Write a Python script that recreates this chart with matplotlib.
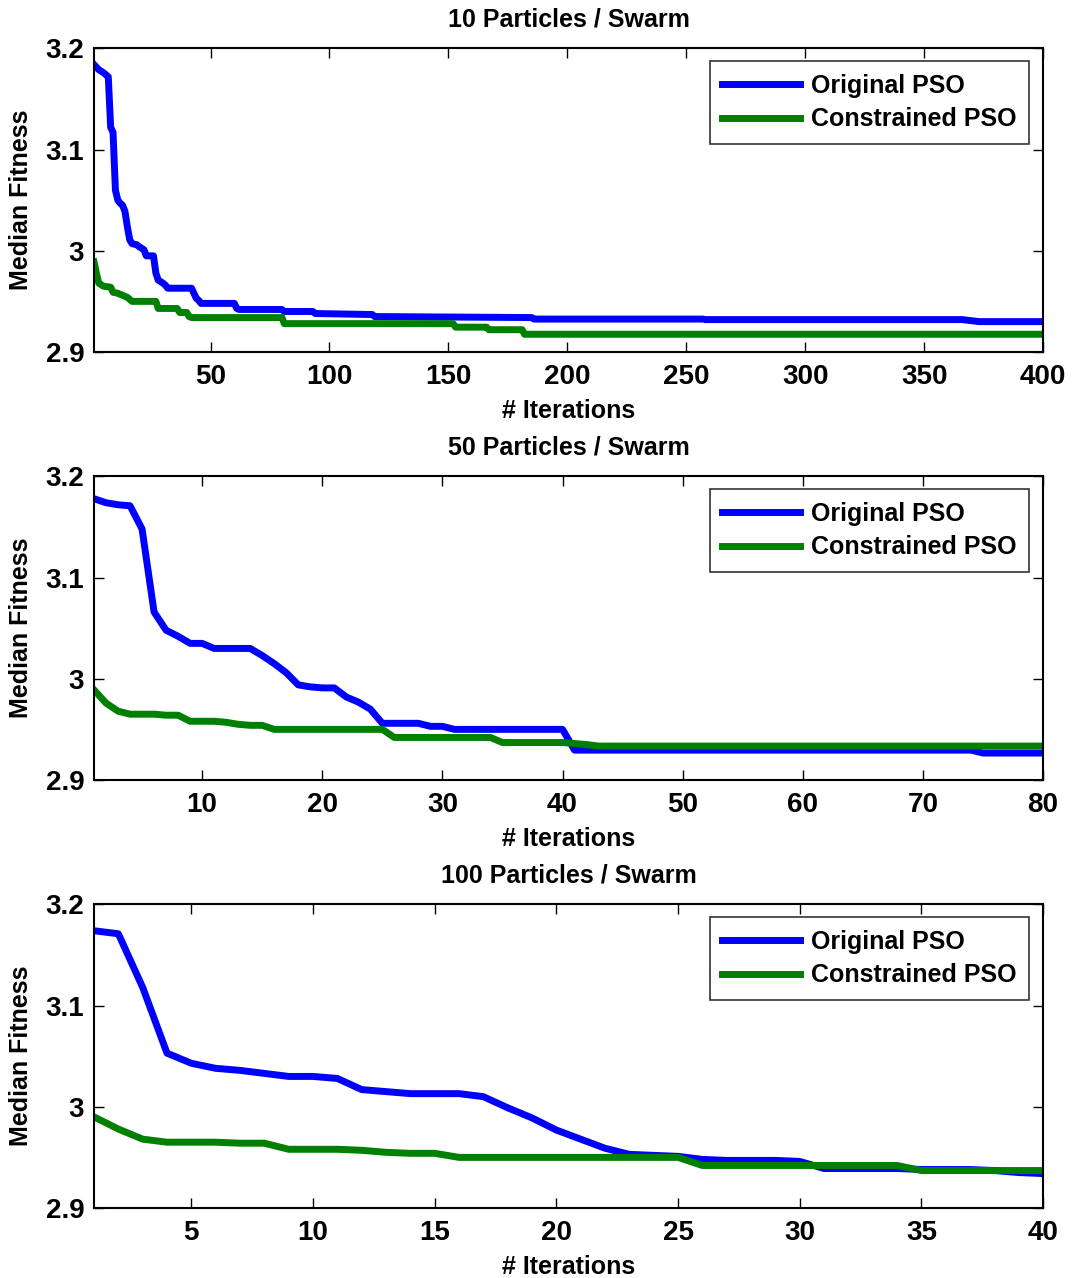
import matplotlib
matplotlib.use("Agg")
import matplotlib.pyplot as plt

plt.rcParams['font.family'] = ['Liberation Sans', 'DejaVu Sans']
plt.rcParams['font.weight'] = 'bold'

titles = ['10 Particles / Swarm', '50 Particles / Swarm', '100 Particles / Swarm']
legend_labels = ['Original PSO', 'Constrained PSO']
x_limits = [400, 80, 40]
x_ticks = [[50, 100, 150, 200, 250, 300, 350, 400],
           [10, 20, 30, 40, 50, 60, 70, 80],
           [5, 10, 15, 20, 25, 30, 35, 40]]
y_ticks = [2.9, 3.0, 3.1, 3.2]
y_tick_labels = ['2.9', '3', '3.1', '3.2']

# 10 particles: iteration / median fitness at the change points
p10_orig_x = [1, 3, 5, 6, 7, 8, 9, 10, 11, 12, 13, 14, 15, 16, 17, 19, 20, 22, 23, 26,
              27, 28, 30, 31, 32, 42, 43, 44, 45, 46, 60, 61, 62, 80, 81, 93, 94, 118,
              119, 185, 186, 257, 258, 366, 373, 400]
p10_orig_y = [3.184, 3.179, 3.176, 3.174, 3.172, 3.122, 3.117, 3.060, 3.050, 3.047, 3.045,
              3.039, 3.024, 3.011, 3.007, 3.006, 3.004, 3.001, 2.995, 2.995, 2.978, 2.971,
              2.968, 2.966, 2.963, 2.963, 2.958, 2.953, 2.951, 2.948, 2.948, 2.943, 2.942,
              2.942, 2.940, 2.940, 2.938, 2.937, 2.935, 2.934, 2.9325, 2.9325, 2.932,
              2.932, 2.930, 2.930]
p10_cons_x = [1, 2, 3, 5, 8, 9, 11, 13, 15, 17, 27, 28, 36, 37, 40, 41, 42, 80, 81, 152,
              153, 166, 167, 181, 182, 400]
p10_cons_y = [2.989, 2.978, 2.968, 2.965, 2.964, 2.959, 2.958, 2.956, 2.954, 2.950, 2.950,
              2.943, 2.943, 2.939, 2.939, 2.935, 2.934, 2.934, 2.928, 2.928, 2.9245, 2.9245,
              2.922, 2.922, 2.9175, 2.9175]

# 50 particles
p50_orig_x = list(range(1, 42)) + [74, 75, 80]
p50_orig_y = [3.178, 3.174, 3.172, 3.171, 3.148, 3.066, 3.048, 3.042, 3.035, 3.035,
              3.030, 3.030, 3.030, 3.030, 3.023, 3.015, 3.006, 2.994, 2.992, 2.991,
              2.991, 2.982, 2.977, 2.970, 2.956, 2.956, 2.956, 2.956, 2.953, 2.953,
              2.950, 2.950, 2.950, 2.950, 2.950, 2.950, 2.950, 2.950, 2.950, 2.950,
              2.9295, 2.9295, 2.9266, 2.9266]
p50_cons_x = list(range(1, 44)) + [80]
p50_cons_y = [2.989, 2.976, 2.968, 2.965, 2.965, 2.965, 2.964, 2.964, 2.958, 2.958,
              2.958, 2.957, 2.955, 2.954, 2.954, 2.950, 2.950, 2.950, 2.950, 2.950,
              2.950, 2.950, 2.950, 2.950, 2.950, 2.942, 2.942, 2.942, 2.942, 2.942,
              2.942, 2.942, 2.942, 2.942, 2.937, 2.937, 2.937, 2.937, 2.937, 2.937,
              2.936, 2.935, 2.9335, 2.9335]

# 100 particles
p100_x = list(range(1, 41))
p100_orig_y = [3.174, 3.171, 3.118, 3.053, 3.043, 3.038, 3.036, 3.033, 3.030, 3.030,
               3.028, 3.017, 3.015, 3.013, 3.013, 3.013, 3.010, 2.999, 2.989, 2.977,
               2.968, 2.959, 2.953, 2.952, 2.951, 2.948, 2.947, 2.947, 2.947, 2.946,
               2.939, 2.939, 2.939, 2.939, 2.938, 2.938, 2.938, 2.937, 2.935, 2.934]
p100_cons_y = [2.990, 2.978, 2.968, 2.965, 2.965, 2.965, 2.964, 2.964, 2.958, 2.958,
               2.958, 2.957, 2.955, 2.954, 2.954, 2.950, 2.950, 2.950, 2.950, 2.950,
               2.950, 2.950, 2.950, 2.950, 2.950, 2.942, 2.942, 2.942, 2.942, 2.942,
               2.942, 2.942, 2.942, 2.942, 2.937, 2.937, 2.937, 2.937, 2.937, 2.937]

series = [(p10_orig_x, p10_orig_y, p10_cons_x, p10_cons_y),
          (p50_orig_x, p50_orig_y, p50_cons_x, p50_cons_y),
          (p100_x, p100_orig_y, p100_x, p100_cons_y)]

fig = plt.figure(figsize=(10.72, 12.78), dpi=100)
bottoms = [0.7246, 0.3897, 0.0548]
for i in range(3):
    ax = fig.add_axes([0.0877, bottoms[i], 0.8853, 0.2375])
    ox, oy, cx, cy = series[i]
    ax.plot(ox, oy, color=(0, 0, 1), lw=5, label=legend_labels[0])
    ax.plot(cx, cy, color=(0, 0.5, 0), lw=5, label=legend_labels[1])
    ax.set_xlim(1, x_limits[i])
    ax.set_ylim(2.9, 3.2)
    ax.set_xticks(x_ticks[i])
    ax.set_yticks(y_ticks)
    ax.set_yticklabels(y_tick_labels)
    ax.tick_params(direction='in', top=True, right=True, length=7, width=1,
                   labelsize=20, pad=7)
    ax.tick_params(axis='x', pad=9)
    for s in ax.spines.values():
        s.set_linewidth(1.5)
    ax.set_title(titles[i], fontsize=18, fontweight='bold', pad=16)
    ax.set_xlabel('# Iterations', fontsize=18, fontweight='bold', labelpad=6)
    ax.set_ylabel('Median Fitness', fontsize=18, fontweight='bold', labelpad=9)
    leg = ax.legend(loc='upper right', bbox_to_anchor=(0.9852, 0.957), fontsize=18,
                    handlelength=3.1, frameon=True, fancybox=False, edgecolor='black',
                    borderaxespad=0, borderpad=0.5, labelspacing=0.38, handletextpad=0.45)
    leg.get_frame().set_linewidth(1.2)

fig.savefig('out.png', dpi=100)
